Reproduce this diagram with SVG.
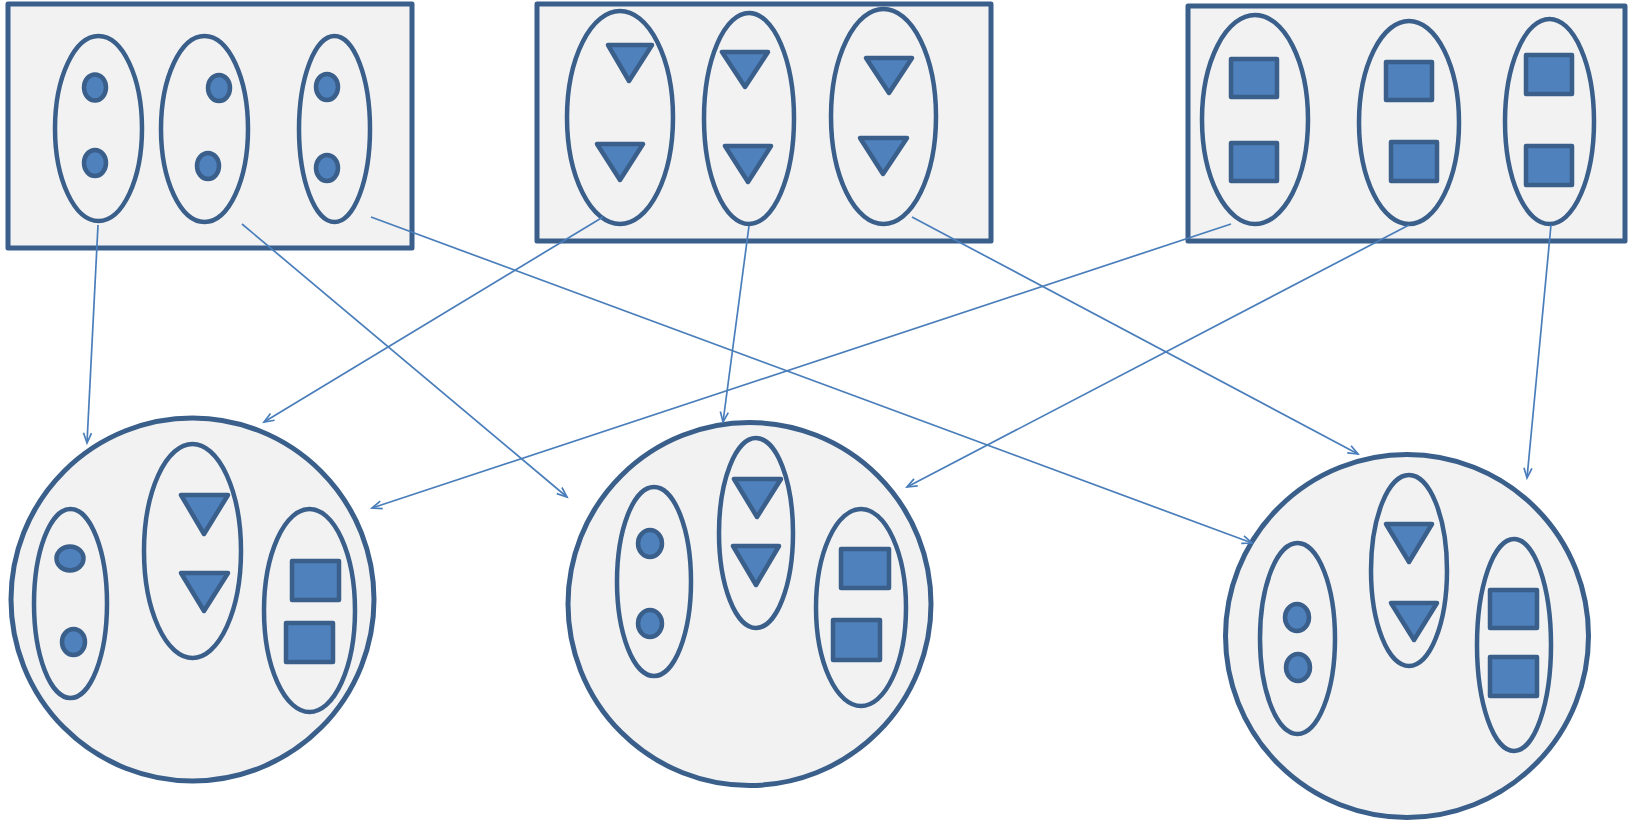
<svg xmlns="http://www.w3.org/2000/svg" width="1633" height="822" viewBox="0 0 1633 822">
<style>
.box{fill:#F2F2F2;stroke:#3A5F8B;stroke-width:5;stroke-linejoin:round}
.ell{fill:none;stroke:#3A5F8B;stroke-width:4.5}
.sh{fill:#4F81BD;stroke:#3A5F8B;stroke-width:4.5;stroke-linejoin:round}
.con{fill:none;stroke:#4A7EBB;stroke-width:1.7}
</style>
<defs>
<marker id="arr" markerUnits="userSpaceOnUse" markerWidth="14" markerHeight="12" refX="11" refY="5" orient="auto">
<path d="M1,1 L11,5 L1,9" fill="none" stroke="#4A7EBB" stroke-width="1.7"/>
</marker>
</defs>
<rect width="1633" height="822" fill="#FFFFFF"/>

<g id="set-circles">
<rect class="box" x="8" y="4" width="404" height="244"/>
<g id="sc-1">
<ellipse class="ell" cx="98.5" cy="128.5" rx="43.5" ry="92.5"/>
<ellipse class="sh" cx="95" cy="87.5" rx="11" ry="13"/>
<ellipse class="sh" cx="95" cy="163" rx="11" ry="13"/>
</g>
<g id="sc-2">
<ellipse class="ell" cx="204.5" cy="129" rx="43.5" ry="93"/>
<ellipse class="sh" cx="219" cy="88" rx="11" ry="13"/>
<ellipse class="sh" cx="208" cy="166" rx="11" ry="13"/>
</g>
<g id="sc-3">
<ellipse class="ell" cx="334.5" cy="129" rx="35.5" ry="93"/>
<ellipse class="sh" cx="327" cy="87" rx="11" ry="13"/>
<ellipse class="sh" cx="327" cy="168" rx="11" ry="13"/>
</g>
</g>

<g id="set-triangles">
<rect class="box" x="537" y="4" width="454" height="237"/>
<g id="st-1">
<ellipse class="ell" cx="620" cy="117.5" rx="53" ry="106.5"/>
<polygon class="sh" points="608,45 652,45 629,81"/>
<polygon class="sh" points="597,144 643,144 620,180"/>
</g>
<g id="st-2">
<ellipse class="ell" cx="749" cy="118.5" rx="45" ry="105.5"/>
<polygon class="sh" points="722,52 768,52 745,87"/>
<polygon class="sh" points="725,146 771,146 748,182"/>
</g>
<g id="st-3">
<ellipse class="ell" cx="883.5" cy="116.5" rx="52.5" ry="107.5"/>
<polygon class="sh" points="866,58 912,58 889,93"/>
<polygon class="sh" points="860,138 907,138 883,174"/>
</g>
</g>

<g id="set-squares">
<rect class="box" x="1188" y="6" width="437" height="235"/>
<g id="ss-1">
<ellipse class="ell" cx="1255" cy="119.5" rx="53" ry="104.5"/>
<rect class="sh" x="1231" y="59" width="46" height="38"/>
<rect class="sh" x="1231" y="143" width="46" height="38"/>
</g>
<g id="ss-2">
<ellipse class="ell" cx="1409" cy="122.5" rx="50" ry="101.5"/>
<rect class="sh" x="1386" y="62" width="46" height="38"/>
<rect class="sh" x="1391" y="142" width="46" height="39"/>
</g>
<g id="ss-3">
<ellipse class="ell" cx="1549.5" cy="121.5" rx="44.5" ry="102.5"/>
<rect class="sh" x="1526" y="55" width="46" height="39"/>
<rect class="sh" x="1526" y="146" width="46" height="39"/>
</g>
</g>

<g id="mix-1">
<circle class="box" cx="192.5" cy="599.5" r="181.5"/>
<g id="m1-a">
<ellipse class="ell" cx="70.5" cy="603.5" rx="36.5" ry="94.5"/>
<ellipse class="sh" cx="70" cy="558.5" rx="13.5" ry="12"/>
<ellipse class="sh" cx="73.5" cy="642" rx="11.5" ry="13"/>
</g>
<g id="m1-b">
<ellipse class="ell" cx="192.5" cy="551" rx="48.5" ry="107"/>
<polygon class="sh" points="181,495 228,495 204,534"/>
<polygon class="sh" points="181,573 228,573 204,611"/>
</g>
<g id="m1-c">
<ellipse class="ell" cx="309.5" cy="610.5" rx="45.5" ry="101.5"/>
<rect class="sh" x="292" y="561" width="47" height="39"/>
<rect class="sh" x="286" y="623" width="47" height="39"/>
</g>
</g>

<g id="mix-2">
<circle class="box" cx="749.5" cy="604" r="181.5"/>
<g id="m2-a">
<ellipse class="ell" cx="654" cy="581.5" rx="37" ry="94.5"/>
<ellipse class="sh" cx="650" cy="543.5" rx="12" ry="13.5"/>
<ellipse class="sh" cx="650" cy="623.5" rx="12" ry="13.5"/>
</g>
<g id="m2-b">
<ellipse class="ell" cx="756" cy="533" rx="37" ry="95"/>
<polygon class="sh" points="734,479 781,479 757,517"/>
<polygon class="sh" points="733,546 779,546 756,585"/>
</g>
<g id="m2-c">
<ellipse class="ell" cx="861" cy="607.5" rx="45" ry="98.5"/>
<rect class="sh" x="841" y="549" width="48" height="39"/>
<rect class="sh" x="833" y="620" width="47" height="40"/>
</g>
</g>

<g id="mix-3">
<circle class="box" cx="1407" cy="636" r="181.5"/>
<g id="m3-a">
<ellipse class="ell" cx="1297.5" cy="638.5" rx="37.5" ry="95.5"/>
<ellipse class="sh" cx="1297" cy="617.5" rx="12" ry="13.5"/>
<ellipse class="sh" cx="1298" cy="667.5" rx="12" ry="13.5"/>
</g>
<g id="m3-b">
<ellipse class="ell" cx="1409" cy="570.5" rx="38" ry="95.5"/>
<polygon class="sh" points="1386,524 1432,524 1409,562"/>
<polygon class="sh" points="1391,603 1437,603 1414,640"/>
</g>
<g id="m3-c">
<ellipse class="ell" cx="1514" cy="645" rx="37" ry="106"/>
<rect class="sh" x="1490" y="590" width="47" height="38"/>
<rect class="sh" x="1490" y="657" width="47" height="39"/>
</g>
</g>

<g id="connectors">
<line class="con" x1="98" y1="225" x2="87" y2="443" marker-end="url(#arr)"/>
<line class="con" x1="242" y1="224" x2="567" y2="497" marker-end="url(#arr)"/>
<line class="con" x1="371" y1="217" x2="1252" y2="543" marker-end="url(#arr)"/>
<line class="con" x1="603" y1="217" x2="264" y2="422" marker-end="url(#arr)"/>
<line class="con" x1="749" y1="226" x2="723" y2="422" marker-end="url(#arr)"/>
<line class="con" x1="912" y1="217" x2="1358" y2="454" marker-end="url(#arr)"/>
<line class="con" x1="1231" y1="224" x2="372" y2="508" marker-end="url(#arr)"/>
<line class="con" x1="1409" y1="225" x2="907" y2="487" marker-end="url(#arr)"/>
<line class="con" x1="1551" y1="225" x2="1527" y2="478" marker-end="url(#arr)"/>
</g>
</svg>
